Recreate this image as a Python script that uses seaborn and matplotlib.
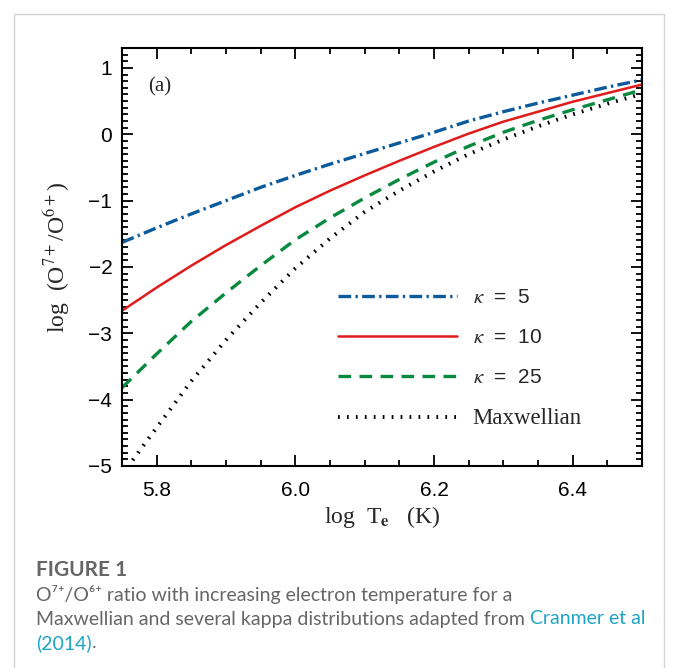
import numpy as np
import pandas as pd
import matplotlib
matplotlib.use("Agg")
import matplotlib.pyplot as plt
from matplotlib.patches import Rectangle
from matplotlib.ticker import MultipleLocator
import seaborn as sns

# values
log_te = [5.75, 5.80, 5.85, 5.90, 5.95, 6.00, 6.05, 6.10,
          6.15, 6.20, 6.25, 6.30, 6.35, 6.40, 6.45, 6.50]
kappa5 = [-1.63, -1.41, -1.20, -1.00, -0.80, -0.62, -0.45, -0.29,
          -0.13, 0.03, 0.20, 0.34, 0.47, 0.59, 0.71, 0.82]
kappa10 = [-2.66, -2.31, -1.98, -1.67, -1.38, -1.10, -0.85, -0.62,
           -0.40, -0.19, 0.01, 0.19, 0.34, 0.49, 0.62, 0.75]
kappa25 = [-3.82, -3.31, -2.82, -2.39, -1.98, -1.59, -1.26, -0.96,
           -0.68, -0.42, -0.18, 0.03, 0.21, 0.37, 0.52, 0.67]
maxwellian = [-5.13, -4.42, -3.72, -3.10, -2.54, -2.02, -1.57, -1.17,
              -0.85, -0.56, -0.30, -0.08, 0.12, 0.30, 0.46, 0.61]

x_ticks = [5.8, 6.0, 6.2, 6.4]
y_ticks = [-5, -4, -3, -2, -1, 0, 1]

sns.set_theme(style="ticks")
plt.rcParams["font.family"] = ["Liberation Sans", "DejaVu Sans"]

fig = plt.figure(figsize=(6.79, 6.68), dpi=100)
ax = fig.add_axes([0.1797, 0.3024, 0.7658, 0.6257])

lw = 2.4
sns.lineplot(x=log_te, y=kappa5, ax=ax, color="#0b5b9c", lw=lw,
             linestyle=(0, (3.8, 1.3, 0.7, 1.3)), label=r"$\kappa$  =  5")
sns.lineplot(x=log_te, y=kappa10, ax=ax, color="#e01b1b", lw=1.8,
             linestyle="-", label=r"$\kappa$  =  10")
sns.lineplot(x=log_te, y=kappa25, ax=ax, color="#08893f", lw=lw,
             linestyle=(0, (3.8, 2.5)), label=r"$\kappa$  =  25")
sns.lineplot(x=log_te, y=maxwellian, ax=ax, color="black", lw=2.8,
             linestyle=(0, (0.45, 1.85)), label="Maxwellian")

ax.set_xlim(5.75, 6.5)
ax.set_ylim(-5, 1.3)
ax.set_xticks(x_ticks)
ax.set_xticklabels([f"{t:.1f}" for t in x_ticks])
ax.set_yticks(y_ticks)
ax.set_yticklabels([str(t).replace("-", "\u2212") for t in y_ticks])
ax.xaxis.set_minor_locator(MultipleLocator(0.05))
ax.yaxis.set_minor_locator(MultipleLocator(0.1))
ax.tick_params(which="both", direction="in", top=True, right=True,
               colors="black", width=1.3, labelsize=15)
ax.tick_params(axis="x", pad=11)
ax.tick_params(axis="y", pad=7)
ax.tick_params(which="major", length=8)
ax.tick_params(which="minor", length=4)
for sp in ax.spines.values():
    sp.set_linewidth(1.5)
    sp.set_color("black")

ax.set_xlabel(r"log  T$_\mathbf{e}$   (K)", family="Liberation Serif",
              math_fontfamily="stix", fontsize=17, labelpad=3)
ax.set_ylabel(r"log  (O$^{7+}$/O$^{6+}$)", family="Liberation Serif",
              math_fontfamily="stix", fontsize=17, labelpad=12)
ax.text(0.05, 0.907, "(a)", transform=ax.transAxes, family="Liberation Serif",
        fontsize=15, va="center", ha="left")

leg = ax.legend(loc="upper left", bbox_to_anchor=(0.40, 0.445), frameon=False,
                handlelength=5.7, handletextpad=0.75, labelspacing=1.0,
                fontsize=15, borderaxespad=0)
for txt in leg.get_texts():
    txt.set_math_fontfamily("stix")
    if txt.get_text() == "Maxwellian":
        txt.set_family("Liberation Serif")
        txt.set_fontsize(16.5)

# outer page frame and caption
fig.add_artist(Rectangle((14 / 679, -0.05), 650 / 679, 1.029,
                         transform=fig.transFigure, fill=False,
                         edgecolor="#d4d4d4", lw=1.0))
cap = dict(family=["Lato", "DejaVu Sans"], fontsize=14, color="#666666")
fig.text(36 / 679, 1 - 570 / 668, "FIGURE 1", va="center", weight="bold",
         **{**cap, "fontsize": 15})
fig.text(36 / 679, 1 - 595 / 668,
         "O\u2077\u207a/O\u2076\u207a ratio with increasing electron temperature for a",
         va="center", **cap)
t = fig.text(36 / 679, 1 - 619 / 668,
             "Maxwellian and several kappa distributions adapted from ",
             va="center", **cap)
fig.canvas.draw()
bb = t.get_window_extent()
fig.text(bb.x1 / fig.bbox.width, 1 - 619 / 668, "Cranmer et al", va="center",
         **{**cap, "color": "#1fa3c4"})
t2 = fig.text(36 / 679, 1 - 643 / 668, "(2014)", va="center",
              **{**cap, "color": "#1fa3c4"})
fig.canvas.draw()
bb2 = t2.get_window_extent()
fig.text(bb2.x1 / fig.bbox.width, 1 - 643 / 668, ".", va="center", **cap)

fig.savefig("out.png", dpi=100)
